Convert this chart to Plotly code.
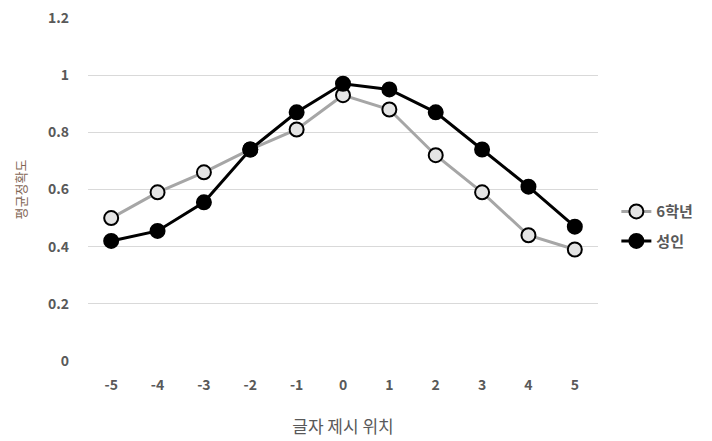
import plotly.graph_objects as go

positions = ["-5", "-4", "-3", "-2", "-1", "0", "1", "2", "3", "4", "5"]
grade6 = [0.50, 0.59, 0.66, 0.74, 0.81, 0.93, 0.88, 0.72, 0.59, 0.44, 0.39]
adult = [0.42, 0.455, 0.555, 0.74, 0.87, 0.97, 0.95, 0.87, 0.74, 0.61, 0.47]
y_tickvals = [0, 0.2, 0.4, 0.6, 0.8, 1.0, 1.2]
y_ticktext = ["0", "0.2", "0.4", "0.6", "0.8", "1", "1.2"]

FONT = "Noto Sans CJK KR"

fig = go.Figure()
fig.add_trace(go.Scatter(
    x=positions, y=grade6, name="6학년", mode="lines+markers", legendgroup="a",
    line=dict(color="#a6a6a6", width=3),
    marker=dict(size=14, color="#e4e4e4", line=dict(color="#000000", width=2)),
))
fig.add_trace(go.Scatter(
    x=positions, y=adult, name="성인", mode="lines+markers", legendgroup="b",
    line=dict(color="#000000", width=3),
    marker=dict(size=14, color="#000000", line=dict(color="#000000", width=2)),
))

fig.update_layout(
    width=712, height=441,
    margin=dict(l=88, r=114, t=18, b=80, autoexpand=False),
    paper_bgcolor="white", plot_bgcolor="white",
    font=dict(family=FONT, color="#595959"),
    showlegend=True,
    legend=dict(x=1.036, y=0.393, xanchor="left", yanchor="middle",
                font=dict(family=FONT, size=15, color="#595959", weight="bold"),
                bgcolor="rgba(0,0,0,0)", itemwidth=30, tracegroupgap=7),
    xaxis=dict(
        type="category", range=[-0.5, 10.5], automargin=False,
        showgrid=False, showline=False, zeroline=False, ticks="", ticklabelstandoff=14,
        tickfont=dict(family=FONT, size=14, color="#595959", weight="bold"),
        title=dict(text="글자 제시 위치", font=dict(family=FONT, size=17, color="#595959"), standoff=28),
    ),
    yaxis=dict(
        range=[0, 1.2], tickvals=y_tickvals, ticktext=y_ticktext, automargin=False,
        showgrid=True, gridcolor="#d9d9d9", gridwidth=1,
        showline=False, zeroline=False, ticks="", ticklabelstandoff=18,
        tickfont=dict(family=FONT, size=14, color="#595959", weight="bold"),
        title=dict(text="평균정확도", font=dict(family=FONT, size=13, color="#7f6553"), standoff=18),
    ),
)

fig.write_html("out.html", config={"displayModeBar": False},
               post_script="document.body.style.margin='0px';")
